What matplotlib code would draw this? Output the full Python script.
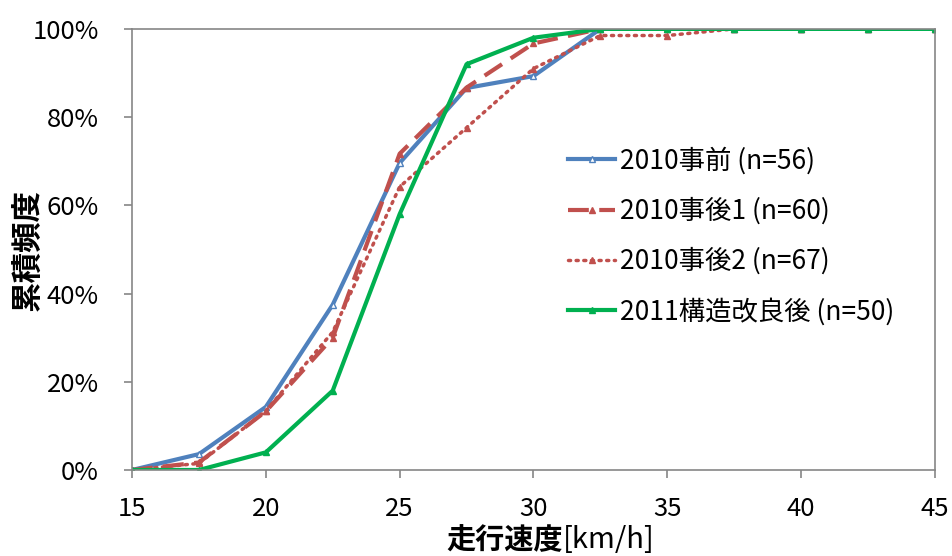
import matplotlib
matplotlib.use("Agg")
import matplotlib.pyplot as plt
from matplotlib.ticker import PercentFormatter

plt.rcParams['font.family'] = ['Noto Sans CJK JP', 'DejaVu Sans']

speed = [15, 17.5, 20, 22.5, 25, 27.5, 30, 32.5, 35, 37.5, 40, 42.5, 45]

before_2010 = [0, 3.6, 14.3, 37.5, 69.6, 86.6, 89.3, 100, 100, 100, 100, 100, 100]
after1_2010 = [0, 1.7, 13.3, 30.0, 71.7, 86.7, 96.7, 100, 100, 100, 100, 100, 100]
after2_2010 = [0, 1.5, 13.4, 31.3, 64.2, 77.6, 91.0, 98.5, 98.5, 100, 100, 100, 100]
improved_2011 = [0, 0, 4.0, 18.0, 58.0, 92.0, 98.0, 100, 100, 100, 100, 100, 100]

labels = ["2010事前 (n=56)", "2010事後1 (n=60)", "2010事後2 (n=67)", "2011構造改良後 (n=50)"]

fig = plt.figure(figsize=(9.52, 5.56), dpi=100)
ax = fig.add_axes([0.1387, 0.1547, 0.8433, 0.7933])

ax.plot(speed, before_2010, color="#4f81bd", lw=3, marker="^", ms=5,
        mfc="white", mec="#4f81bd", mew=1, label=labels[0])
ax.plot(speed, after1_2010, color="#c0504d", lw=3, ls=(0, (5, 2.5)), marker="^", ms=5,
        label=labels[1])
ax.plot(speed, after2_2010, color="#c0504d", lw=2.5, ls=(0, (0.6, 1.6)),
        dash_capstyle="round", marker="^", ms=5, label=labels[2])
ax.plot(speed, improved_2011, color="#00b050", lw=3, marker="^", ms=5,
        label=labels[3])

ax.set_xlim(15, 45)
ax.set_ylim(0, 100)
ax.set_xticks([15, 20, 25, 30, 35, 40, 45])
ax.set_yticks([0, 20, 40, 60, 80, 100])
ax.yaxis.set_major_formatter(PercentFormatter(decimals=0))

for s in ax.spines.values():
    s.set_color("#868686")
    s.set_linewidth(1.2)
ax.tick_params(direction="out", length=6, width=1.2, color="#868686",
               labelsize=18.5)
ax.tick_params(axis="x", pad=13)
ax.tick_params(axis="y", pad=18)

# axis titles: Japanese part bold, unit part regular
fig.text(0.591, 0.028, "走行速度", fontsize=21, fontweight="bold",
         ha="right", va="center")
fig.text(0.591, 0.028, "[km/h]", fontsize=21, ha="left", va="center")
fig.text(0.030, 0.55, "累積頻度", fontsize=22, fontweight="bold",
         rotation=90, ha="center", va="center")

ax.legend(loc="center left", bbox_to_anchor=(0.514, 0.53), frameon=False,
          fontsize=19, handlelength=1.75, labelspacing=0.86, handletextpad=0.2)

fig.savefig("out.png", dpi=100)
